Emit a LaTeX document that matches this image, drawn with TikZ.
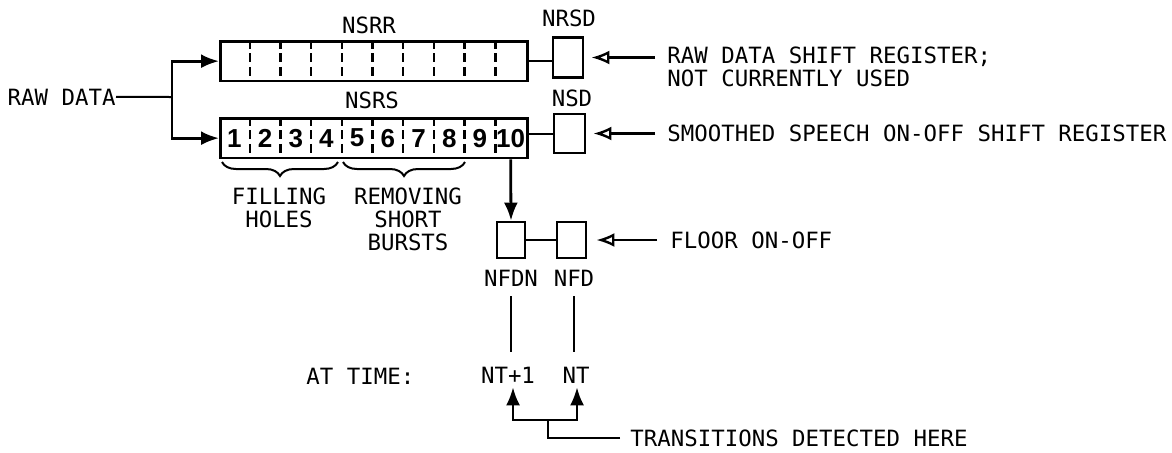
\documentclass[tikz,border=0pt]{standalone}
\usepackage{fontspec}
\newfontfamily\lblfont{DejaVu Sans Mono}
\newfontfamily\digfont{Liberation Sans}
\usetikzlibrary{arrows.meta,decorations.pathreplacing,calc}
\begin{document}
\begin{tikzpicture}[x=0.5pt,y=-0.5pt,
  lbl/.style={inner sep=0pt, font=\lblfont\fontsize{11.2}{13}\selectfont},
  reg/.style={draw, line width=1.4pt, inner sep=0pt, anchor=north west, minimum width=153.5pt, minimum height=19.75pt},
  boxx/.style={draw, line width=1.4pt, inner sep=0pt},
  dig/.style={inner sep=0pt, font=\digfont\bfseries\fontsize{13}{13}\selectfont},
  div/.style={line width=1.2pt, dash pattern=on 4.5pt off 2.2pt},
  ln/.style={line width=1pt},
  fed/.style={line width=1.4pt, -{Latex[length=9pt,width=7pt]}},
  inarr/.style={line width=1.2pt, -{Latex[open,length=9pt,width=7pt]}},
  brc/.style={line width=1pt, decorate, decoration={brace, mirror, amplitude=7pt}}]
\useasboundingbox (0,0) rectangle (1172,452);

% registers
\node[reg] (nsrr) at (219,40) {};
\node[reg] (nsrs) at (219,117) {};
\foreach \i in {1,...,9} {
  \draw[div] ($(nsrr.north west)+(\i*30.7,0)$) -- ($(nsrr.south west)+(\i*30.7,0)$);
  \draw[div] ($(nsrs.north west)+(\i*30.7,0)$) -- ($(nsrs.south west)+(\i*30.7,0)$);
}
\foreach \i in {1,...,10} {
  \node[dig] (d\i) at ($(nsrs.west)+(\i*30.7-15.35,0)$) {\i};
}
\node[lbl, anchor=base] (lnsrr) at (369,33) {NSRR};
\node[lbl, anchor=base] (lnsrs) at (372,108) {NSRS};

% single boxes
\node[boxx, minimum width=15pt, minimum height=20pt] (nrsd) at (568,57.5) {};
\node[boxx, minimum width=15.5pt, minimum height=19.5pt] (nsd) at (569.5,133.5) {};
\node[boxx, minimum width=14pt, minimum height=18pt] (nfdn) at (511,240) {};
\node[boxx, minimum width=14.5pt, minimum height=18pt] (nfd) at (571.5,240) {};
\node[lbl, anchor=base] (lnrsd) at (569,26) {NRSD};
\node[lbl, anchor=base] (lnsd) at (572,106) {NSD};
\node[lbl, anchor=base] (lnfdn) at (511,286) {NFDN};
\node[lbl, anchor=base] (lnfd) at (574,286) {NFD};

% raw data input
\node[lbl, anchor=base east] (raw) at (116,105) {RAW DATA};
\coordinate (split) at (172,97);
\draw[ln] (raw.east) -- (split);
\draw[fed] (split) |- (nsrr.west);
\draw[fed] (split) |- (nsrs.west);

% register to boxes
\draw[ln] (nsrr.east) -- (nsrr.east -| nrsd.west);
\draw[ln] (nsd.west -| nsrs.east) -- (nsd.west);
\draw[fed] (d10 |- nsrs.south) -- (nfdn.north);
\draw[ln] (nfdn) -- (nfd);

% right side texts
\node[lbl, anchor=base west] (t1) at (667,63) {RAW DATA SHIFT REGISTER;};
\node[lbl, anchor=base west] (t1b) at (667,86) {NOT CURRENTLY USED};
\node[lbl, anchor=base west] (t2) at (667,141) {SMOOTHED SPEECH ON-OFF SHIFT REGISTER};
\node[lbl, anchor=base west] (t3) at (670,248) {FLOOR ON-OFF};
\draw[inarr, shorten <=6pt, shorten >=3.5pt] (t1.west |- nrsd.east) -- (nrsd.east);
\draw[inarr, shorten <=6pt, shorten >=3.5pt] (t2.west |- nsd.east) -- (nsd.east);
\draw[inarr, shorten <=6.5pt, shorten >=4.5pt] (t3.west |- nfd.east) -- (nfd.east);

% braces
\draw[brc] (222,162) -- (338,162);
\draw[brc] (343,162) -- (465,162);
\node[lbl, anchor=base] (f1) at (279,204) {FILLING};
\node[lbl, anchor=base] (f2) at (279,227) {HOLES};
\node[lbl, anchor=base] (r1) at (408,204) {REMOVING};
\node[lbl, anchor=base] (r2) at (408,227) {SHORT};
\node[lbl, anchor=base] (r3) at (408,250) {BURSTS};

% time section
\node[lbl, anchor=base west] (attime) at (306,384) {AT TIME:};
\node[lbl, anchor=base] (ntp) at (508,383) {NT+1};
\node[lbl, anchor=base] (nt) at (576,383) {NT};
\draw[ln, shorten <=5pt, shorten >=7pt] (lnfdn.south) -- (lnfdn.south |- ntp.north);
\draw[ln, shorten <=5pt, shorten >=7pt] (lnfd.south) -- (lnfd.south |- nt.north);

\node[lbl, anchor=base west] (trans) at (630,446) {TRANSITIONS DETECTED HERE};
\coordinate (hj) at (548,420);
\draw[ln, shorten <=5pt] (trans.west) -| (hj);
\draw[fed, line width=1.1pt, shorten >=2pt] (hj) -| ([xshift=2.5pt]ntp.south);
\draw[fed, line width=1.1pt, shorten >=2pt] (hj) -| ([xshift=0.5pt]nt.south);
\end{tikzpicture}
\end{document}
